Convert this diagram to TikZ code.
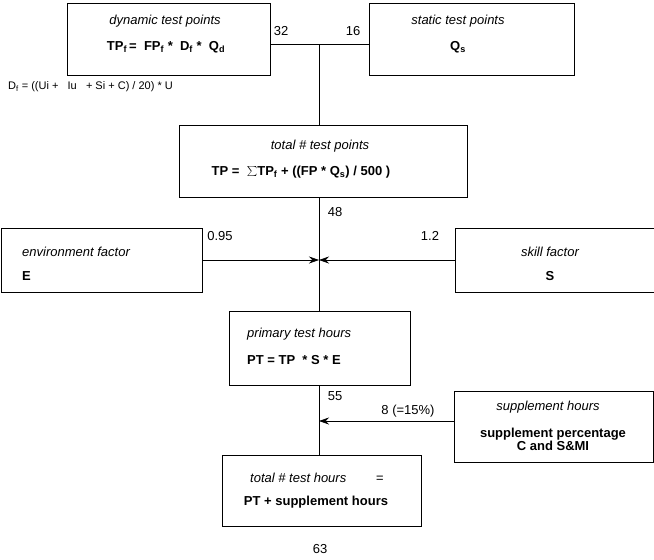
\documentclass[tikz,border=0pt]{standalone}
\usepackage{fontspec}
\setmainfont{Liberation Sans}
\usetikzlibrary{arrows.meta}
\begin{document}
\begin{tikzpicture}[x=1pt,y=-1pt,font=\fontsize{13}{15}\selectfont,
  box/.style={draw,line width=0.6pt},
  lbl/.style={inner sep=0pt},
  con/.style={line width=0.6pt},
  arr/.style={con,-{Stealth[length=10pt,width=7pt]}}]
\useasboundingbox (0,0) rectangle (654,560);
% boxes
\draw[box] (67,3) rectangle (270,75);
\node[lbl] (dynT) at (165,21) {\itshape dynamic test points};
\node[lbl] (dynF) at (166,47) {\bfseries TP$_\mathbf{f}$\,=\ \ FP$_\mathbf{f}$\ *\ \ D$_\mathbf{f}$\ *\ \ Q$_\mathbf{d}$};
\draw[box] (369,3) rectangle (574,75);
\node[lbl] (stT) at (458,21) {\itshape static test points};
\node[lbl] (stF) at (458,47) {\bfseries Q$_\mathbf{s}$};
\node[lbl,anchor=west,font=\fontsize{11}{13}\selectfont] (df) at (8,87) {D$_\mathrm{f}$ = ((Ui +\ \ \ Iu\ \ \ + Si + C) / 20) * U};
\draw[box] (179,125) rectangle (467,197);
\node[lbl] (tpT) at (320,146) {\itshape total \# test points};
\node[lbl] (tpF) at (301,172) {\bfseries TP =\ \ {\fontsize{17}{17}\selectfont$\sum$}TP$_\mathbf{f}$ + ((FP * Q$_\mathbf{s}$) / 500 )};
\draw[box] (1,228) rectangle (202,292);
\node[lbl,anchor=west] (envT) at (22,252) {\itshape environment factor};
\node[lbl,anchor=west] (envF) at (22,276) {\bfseries E};
\draw[box] (455,228) rectangle (654,292);
\node[lbl] (skT) at (550,252) {\itshape skill factor};
\node[lbl] (skF) at (550,276) {\bfseries S};
\draw[box] (229,311) rectangle (410,385);
\node[lbl,anchor=west] (phT) at (247,334) {\itshape primary test hours};
\node[lbl,anchor=west] (phF) at (247,360) {\bfseries PT = TP\ \ * S * E};
\draw[box] (454,391) rectangle (653,462);
\node[lbl] (suT) at (548,407) {\itshape supplement hours};
\node[lbl] (suF) at (553,441) {\bfseries\begin{tabular}{@{}c@{}}supplement percentage\\[-2pt]C and S\&MI\end{tabular}};
\draw[box] (222,455) rectangle (421,526);
\node[lbl,anchor=west] (thT) at (250,478) {\itshape total \# test hours\qquad\ =};
\node[lbl] (thF) at (316,502) {\bfseries PT + supplement hours};
% connectors
\coordinate (j1) at (319,44);
\coordinate (j2) at (319,260);
\coordinate (j3) at (319,421);
\draw[con] (270,44) -- (369,44);
\draw[con] (j1) -- (319,125);
\draw[con] (319,197) -- (319,311);
\draw[arr] (202,260) -- (j2);
\draw[arr] (455,260) -- (j2);
\draw[con] (319,385) -- (319,455);
\draw[arr] (454,421) -- (j3);
% labels
\node[lbl] (n32) at (281,31) {32};
\node[lbl] (n16) at (353,31) {16};
\node[lbl] (n48) at (335,212) {48};
\node[lbl] (n095) at (220,236) {0.95};
\node[lbl] (n12) at (430,236) {1.2};
\node[lbl] (n55) at (335,396) {55};
\node[lbl] (n8) at (408,411) {8 (=15\%)};
\node[lbl] (n63) at (320,549) {63};
\end{tikzpicture}
\end{document}
